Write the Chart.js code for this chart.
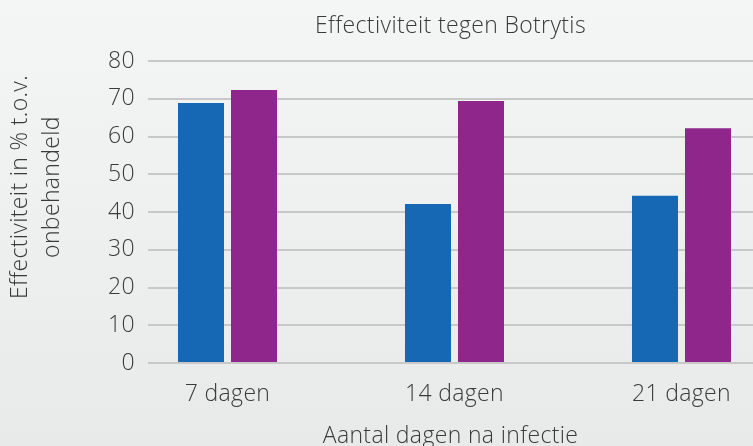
<!DOCTYPE html>
<html>
<head>
<meta charset="utf-8">
<script src="https://cdn.jsdelivr.net/npm/chart.js@4"></script>
<style>
  html, body { margin: 0; padding: 0; overflow: hidden; }
  body { width: 753px; height: 446px; background: linear-gradient(#f4f5f5, #e8e9e9); }
  #wrap { position: relative; width: 753px; height: 446px; }
</style>
</head>
<body>
<div id="wrap"><canvas id="c"></canvas></div>
<script>
const categories = ['7 dagen', '14 dagen', '21 dagen'];
const seriesBlue = [68.9, 42.1, 44.3];
const seriesPurple = [72.3, 69.4, 62.2];
const yTicks = [0, 10, 20, 30, 40, 50, 60, 70, 80];
const chartTitle = 'Effectiviteit tegen Botrytis';
const xTitle = 'Aantal dagen na infectie';
const yTitle = ['Effectiviteit in % t.o.v.', 'onbehandeld'];

const FONT = "'Open Sans', 'DejaVu Sans', sans-serif";
const TXT = '#3a3a3a';
const W = '350';
const LS = '0.35px';

const spacingPlugin = {
  id: 'spacing',
  beforeDraw(chart) { chart.ctx.letterSpacing = LS; }
};

const yTitlePlugin = {
  id: 'yTitle',
  afterDraw(chart) {
    const ctx = chart.ctx;
    const a = chart.chartArea;
    const cy = (a.top + a.bottom) / 2 - 25;
    ctx.save();
    ctx.letterSpacing = LS;
    ctx.fillStyle = TXT;
    ctx.font = W + ' 23px ' + FONT;
    ctx.textAlign = 'center';
    ctx.textBaseline = 'alphabetic';
    const xs = [27, 58.5];
    yTitle.forEach((line, i) => {
      ctx.save();
      ctx.translate(xs[i], cy);
      ctx.rotate(-Math.PI / 2);
      ctx.fillText(line, 0, 0);
      ctx.restore();
    });
    ctx.restore();
  }
};

new Chart(document.getElementById('c'), {
  type: 'bar',
  data: {
    datasets: [
      { label: 'Serie 1', data: seriesBlue.map((v, i) => ({ x: i, y: v })), backgroundColor: '#1668b4' },
      { label: 'Serie 2', data: seriesPurple.map((v, i) => ({ x: i, y: v })), backgroundColor: '#8e268b' }
    ]
  },
  options: {
    responsive: true,
    maintainAspectRatio: false,
    animation: false,
    categoryPercentage: 0.467,
    barPercentage: 0.868,
    layout: { padding: 0 },
    plugins: {
      legend: { display: false },
      tooltip: { enabled: false },
      title: {
        display: true,
        text: chartTitle,
        fullSize: false,
        color: TXT,
        font: { family: FONT, size: 23, weight: W, lineHeight: 1.2 },
        padding: { top: 12.6, bottom: 20.8 }
      }
    },
    scales: {
      x: {
        type: 'linear',
        offset: false,
        min: -0.3502,
        max: 2.315,
        grid: { display: false, drawTicks: false },
        border: { display: false },
        afterBuildTicks(scale) {
          scale.ticks = categories.map((c, i) => ({ value: i }));
        },
        afterFit(scale) { scale.height = 83; },
        ticks: {
          padding: 18,
          color: TXT,
          font: { family: FONT, size: 23, weight: W, lineHeight: 1.2 },
          callback: (v) => categories[v]
        },
        title: {
          display: true,
          text: xTitle,
          color: TXT,
          font: { family: FONT, size: 23, weight: W, lineHeight: 0.8 },
          padding: { top: 19, bottom: 0 }
        }
      },
      y: {
        min: 0,
        max: 80,
        afterBuildTicks(scale) {
          scale.ticks = yTicks.map(v => ({ value: v }));
        },
        afterFit(scale) { scale.width = 148; },
        grid: { color: '#c8c8c8', lineWidth: 2, drawTicks: false },
        border: { display: false },
        ticks: {
          padding: 13,
          color: TXT,
          font: { family: FONT, size: 23, weight: W, lineHeight: 1.2 }
        }
      }
    }
  },
  plugins: [spacingPlugin, yTitlePlugin]
});
</script>
</body>
</html>
